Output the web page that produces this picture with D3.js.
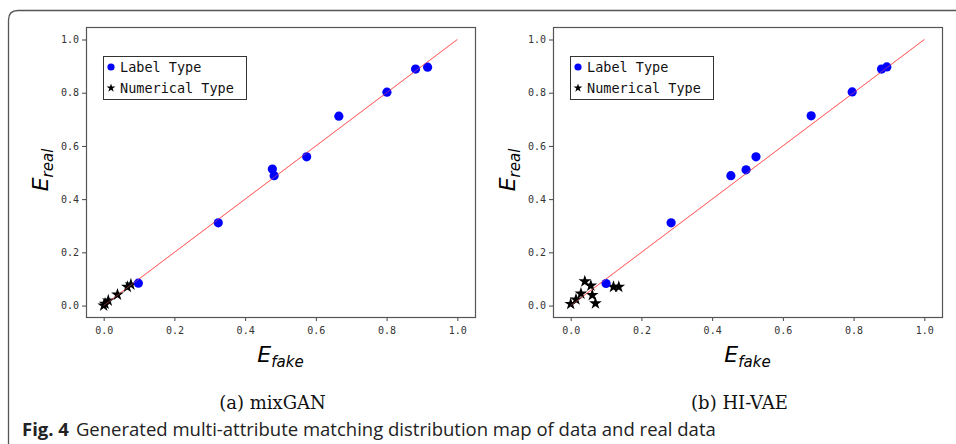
<!DOCTYPE html>
<html>
<head>
<meta charset="utf-8">
<script src="https://cdn.jsdelivr.net/npm/d3@7"></script>
<style>
  body { margin: 0; background: #fff; }
  svg { display: block; }
</style>
</head>
<body>
<div id="fig"></div>
<script>
// ticks shared by both panels
const tickValues = [0.0, 0.2, 0.4, 0.6, 0.8, 1.0];

// (a) mixGAN
const mixganLabel = [
  [0.098, 0.084], [0.324, 0.311], [0.477, 0.513], [0.482, 0.488],
  [0.574, 0.559], [0.665, 0.712], [0.801, 0.802], [0.882, 0.889], [0.916, 0.896]
];
const mixganNumeric = [
  [0.0, 0.0], [0.004, 0.007], [0.013, 0.019], [0.039, 0.041],
  [0.067, 0.07], [0.077, 0.079]
];

// (b) HI-VAE
const hivaeLabel = [
  [0.10, 0.083], [0.284, 0.311], [0.453, 0.488], [0.496, 0.51],
  [0.524, 0.559], [0.68, 0.713], [0.796, 0.803], [0.879, 0.889], [0.894, 0.897]
];
const hivaeNumeric = [
  [0.0, 0.006], [0.015, 0.023], [0.029, 0.045], [0.04, 0.091],
  [0.057, 0.075], [0.061, 0.039], [0.07, 0.008], [0.121, 0.07], [0.136, 0.07]
];

const panels = [
  { left: 86, caption: "(a)  mixGAN", label: mixganLabel, numeric: mixganNumeric },
  { left: 553, caption: "(b)  HI-VAE", label: hivaeLabel, numeric: hivaeNumeric }
];

const W = 956, H = 444;
const svg = d3.select("#fig").append("svg")
  .attr("width", W)
  .attr("height", H);

// outer frame: top and left edges with rounded corner
svg.append("path")
  .attr("d", "M8.5,444 L8.5,20 Q8.5,10.5 18,10.5 L956,10.5")
  .attr("fill", "none")
  .attr("stroke", "#555")
  .attr("stroke-width", 1.3);

const boxW = 389, boxTop = 27, boxBottom = 317;
const tickFont = "'DejaVu Sans Mono', monospace";

panels.forEach(p => {
  const x = d3.scaleLinear().domain([-0.05, 1.05]).range([p.left, p.left + boxW]);
  const y = d3.scaleLinear().domain([-0.043, 1.047]).range([boxBottom, boxTop]);
  const g = svg.append("g");

  // axes
  const xAxis = d3.axisBottom(x).tickValues(tickValues).tickFormat(d3.format(".1f")).tickSize(4).tickPadding(6);
  const yAxis = d3.axisLeft(y).tickValues(tickValues).tickFormat(d3.format(".1f")).tickSize(4).tickPadding(3);

  g.append("g").attr("transform", `translate(0,${boxBottom})`).call(xAxis);
  g.append("g").attr("transform", `translate(${p.left},0)`).call(yAxis);
  g.selectAll(".domain").remove();
  g.selectAll(".tick line").attr("stroke", "#444");
  g.selectAll(".tick text")
    .attr("fill", "#333")
    .style("font-family", tickFont)
    .style("font-size", "10px");

  // box
  g.append("rect")
    .attr("x", p.left + 0.5).attr("y", boxTop + 0.5)
    .attr("width", boxW).attr("height", boxBottom - boxTop)
    .attr("fill", "none")
    .attr("stroke", "#555")
    .attr("stroke-width", 1.2);

  // identity line
  g.append("line")
    .attr("x1", x(0)).attr("y1", y(0))
    .attr("x2", x(1)).attr("y2", y(1))
    .attr("stroke", "#ff6666")
    .attr("stroke-width", 1);

  // numerical type stars
  const star = d3.symbol().type(d3.symbolStar).size(50);
  g.selectAll(".num").data(p.numeric).join("path")
    .attr("class", "num")
    .attr("d", star)
    .attr("transform", d => `translate(${x(d[0])},${y(d[1])})`)
    .attr("fill", "#000");

  // label type circles
  g.selectAll(".lab").data(p.label).join("circle")
    .attr("class", "lab")
    .attr("cx", d => x(d[0])).attr("cy", d => y(d[1]))
    .attr("r", 4.6)
    .attr("fill", "#0000ff");

  // line shows faintly through the markers
  g.append("line")
    .attr("x1", x(0)).attr("y1", y(0))
    .attr("x2", x(1)).attr("y2", y(1))
    .attr("stroke", "#ff6666")
    .attr("stroke-width", 0.8)
    .attr("opacity", 0.6);

  // legend
  const lx = p.left + 17, ly = 56;
  const lg = g.append("g");
  lg.append("rect")
    .attr("x", lx + 0.5).attr("y", ly + 0.5)
    .attr("width", 143).attr("height", 43)
    .attr("fill", "#fff")
    .attr("stroke", "#333")
    .attr("stroke-width", 1);
  lg.append("circle")
    .attr("cx", lx + 8).attr("cy", ly + 11)
    .attr("r", 3.6)
    .attr("fill", "#0000ff");
  lg.append("path")
    .attr("d", d3.symbol().type(d3.symbolStar).size(24))
    .attr("transform", `translate(${lx + 8},${ly + 32})`)
    .attr("fill", "#000");
  lg.append("text")
    .attr("x", lx + 17).attr("y", ly + 16)
    .style("font-family", tickFont).style("font-size", "13.5px")
    .attr("fill", "#111")
    .text("Label Type");
  lg.append("text")
    .attr("x", lx + 17).attr("y", ly + 37)
    .style("font-family", tickFont).style("font-size", "13.5px")
    .attr("fill", "#111")
    .text("Numerical Type");

  // axis titles
  const cx = p.left + boxW / 2;
  const xt = g.append("text")
    .attr("x", cx).attr("y", 362)
    .attr("text-anchor", "middle")
    .style("font-family", "'DejaVu Sans', sans-serif")
    .style("font-style", "italic")
    .attr("fill", "#000");
  xt.append("tspan").style("font-size", "22px").text("E");
  xt.append("tspan").style("font-size", "15px").attr("dy", 5).text("fake");

  const yt = g.append("text")
    .attr("transform", `translate(${p.left - 38},${(boxTop + boxBottom) / 2 - 2}) rotate(-90)`)
    .attr("text-anchor", "middle")
    .style("font-family", "'DejaVu Sans', sans-serif")
    .style("font-style", "italic")
    .attr("fill", "#000");
  yt.append("tspan").style("font-size", "22px").text("E");
  yt.append("tspan").style("font-size", "15px").attr("dy", 5).text("real");

  // sub caption
  g.append("text")
    .attr("x", cx - 8).attr("y", 409)
    .attr("text-anchor", "middle")
    .style("font-family", "'DejaVu Serif', serif")
    .style("font-size", "18px")
    .attr("fill", "#111")
    .text(p.caption);
});

// figure caption
const cap = svg.append("text")
  .attr("x", 22).attr("y", 436)
  .style("font-family", "'Open Sans', 'Noto Sans', sans-serif")
  .style("font-size", "18.5px")
  .attr("fill", "#222");
cap.append("tspan").style("font-weight", "bold").text("Fig. 4");
cap.append("tspan").attr("dx", 7).text("Generated multi-attribute matching distribution map of data and real data");
</script>
</body>
</html>
